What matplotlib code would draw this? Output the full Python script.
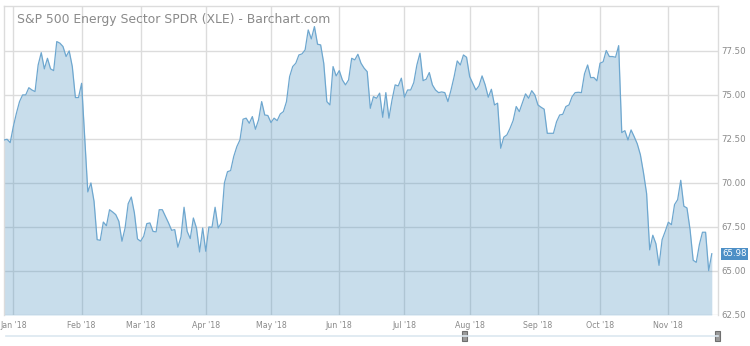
"""
Recreates the Barchart XLE daily close chart (Dec 2017 - Nov 2018).
Area chart on a trading-day axis, price scale on the right.
"""

import matplotlib
matplotlib.use("Agg")
import matplotlib.pyplot as plt
from matplotlib.patches import Rectangle
import matplotlib.transforms as mtransforms

TITLE = "S&P 500 Energy Sector SPDR (XLE) - Barchart.com"

# daily closes, one per trading day
closes = [
    # late Dec 2017 / Jan
    72.44, 72.48, 72.29, 73.20, 73.96, 74.62, 75.00, 75.00, 75.41, 75.28,
    75.19, 76.70, 77.40, 76.48, 77.08, 76.48, 76.38, 78.03, 77.94, 77.75,
    77.18, 77.50, 76.61, 74.85, 74.85, 75.66, 72.60,
    # Feb - early Apr
    69.49, 70.00, 68.96, 66.78, 66.74, 67.78, 67.57, 68.48, 68.35, 68.20,
    67.82, 66.69, 67.44, 68.82, 69.20, 68.30, 66.82, 66.69, 66.97, 67.69,
    67.73, 67.25, 67.22, 68.48, 68.48, 68.10, 67.73, 67.31, 67.35, 66.35,
    66.93, 68.62, 67.25, 66.84, 68.01, 67.44, 66.08, 67.44, 66.12, 67.50,
    67.48, 68.62, 67.44, 67.73, 70.00,
    # Apr - Jun
    70.64, 70.70, 71.50, 72.06, 72.44, 73.62, 73.68, 73.39, 73.77, 73.05,
    73.58, 74.62, 73.86, 73.83, 73.43, 73.68, 73.54, 73.92, 74.05, 74.62,
    76.04, 76.61, 76.80, 77.27, 77.33, 77.56, 78.69, 78.18, 78.88, 77.88,
    77.84, 76.80, 74.62, 74.43, 76.61, 76.08, 76.38, 75.85, 75.57, 75.85,
    77.08, 76.99, 77.31, 76.80, 76.52, 76.32, 74.24, 74.90, 74.81,
    # late Jun - Oct
    75.10, 73.73, 75.13, 73.68, 74.72, 75.57, 75.51, 75.95, 74.87, 75.28,
    75.28, 75.70, 76.70, 77.37, 75.81, 75.89, 76.27, 75.57, 75.28, 75.13,
    75.17, 75.13, 74.62, 75.28, 76.04, 76.93, 76.70, 77.27, 77.14, 76.04,
    75.66, 75.28, 75.51, 76.08, 75.57, 74.87, 75.32, 74.43, 74.53, 71.97,
    72.60, 72.73, 73.10, 73.54, 74.34, 74.05, 74.56, 75.06, 74.81, 75.24,
    75.00, 74.43, 74.30, 74.19, 72.82, 72.82, 72.82, 73.48, 73.86, 73.90,
    74.34, 74.43, 74.90, 75.13, 75.15, 75.13, 76.20, 76.70, 75.98, 75.99,
    75.80, 76.80, 76.88, 77.52, 77.18, 77.18, 77.14, 77.80, 72.86, 72.97,
    72.44, 73.01, 72.63, 72.22, 71.60, 70.58,
    # late Oct - Nov
    69.40, 66.20, 67.03, 66.55, 65.32, 66.78, 67.25, 67.77, 67.63, 68.77,
    69.05, 70.15, 68.68, 68.58, 67.35, 65.61, 65.49, 66.50, 67.20, 67.20,
    65.02, 65.98,
]

# first trading day of each month, as an index into closes
month_idx = [3, 25, 44, 65, 86, 108, 129, 150, 172, 192, 214]
month_labels = ["Jan '18", "Feb '18", "Mar '18", "Apr '18", "May '18", "Jun '18",
                "Jul '18", "Aug '18", "Sep '18", "Oct '18", "Nov '18"]

y_ticks = [62.5, 65.0, 67.5, 70.0, 72.5, 75.0, 77.5]
last_price = closes[-1]

W, H = 750, 346
GRID = "#dcdcdc"
TXT = "#8a8a8a"

fig = plt.figure(figsize=(W / 100, H / 100), dpi=100)
ax = fig.add_axes([4 / W, 31 / H, 714 / W, 309 / H])

x = list(range(len(closes)))
ax.fill_between(x, closes, 62.5, color="#4a90c0", alpha=0.30, lw=0, zorder=2)
ax.plot(x, closes, color="#6ea7cf", lw=0.9, zorder=3)

ax.set_xlim(0, 230)
ax.set_ylim(62.5, 80.05)
ax.set_axisbelow(True)
ax.grid(True, color=GRID, lw=1.0)

ax.set_xticks(month_idx)
ax.set_xticklabels(month_labels)
ax.set_yticks(y_ticks)
ax.set_yticklabels([f"{v:.2f}" for v in y_ticks])
ax.yaxis.tick_right()
ax.tick_params(axis="x", length=0, pad=4, labelsize=5.7, labelcolor=TXT)
ax.tick_params(axis="y", length=0, pad=2.5, labelsize=6.2, labelcolor=TXT)

for side in ["top", "left", "right"]:
    ax.spines[side].set_color(GRID)
    ax.spines[side].set_linewidth(1.0)
ax.spines["bottom"].set_visible(False)

# title sits inside the plot area
fig.text(17 / W, 1 - 20 / H, TITLE, color=TXT, fontsize=8.9, va="center", ha="left")

# last price tag on the right scale
trans = mtransforms.blended_transform_factory(ax.transAxes, ax.transData)
ax.text(1.006, last_price, f"{last_price:.2f}", transform=trans, color="white",
        fontsize=6.2, va="center", ha="left", clip_on=False, zorder=5,
        bbox=dict(boxstyle="square,pad=0.18", fc="#4d8fc6", ec="none"))

# navigator strip under the axis
fig.add_artist(plt.Line2D([6 / W, 718 / W], [1 - 335.5 / H] * 2,
                          transform=fig.transFigure, color="#dbe7f0", lw=1.2))
for hx in [464.5, 717.5]:
    fig.add_artist(Rectangle(((hx - 2.5) / W, 1 - 340.5 / H), 5 / W, 10 / H,
                             transform=fig.transFigure, fc="#9a9a9a", ec="#6f6f6f", lw=0.8))

fig.savefig("out.png", dpi=100)
